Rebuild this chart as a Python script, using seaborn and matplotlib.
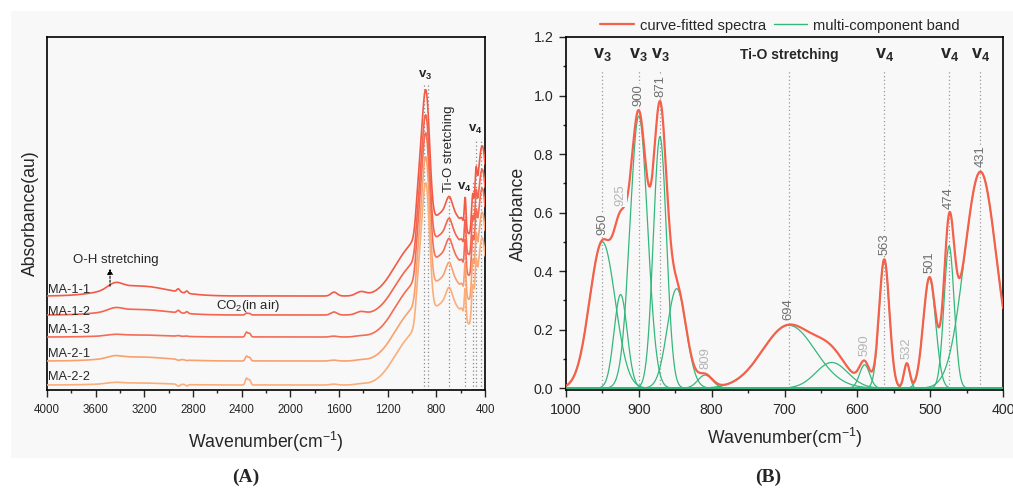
import numpy as np
import pandas as pd
import seaborn as sns
import matplotlib.pyplot as plt
from matplotlib.patches import Rectangle
from matplotlib.lines import Line2D
from matplotlib.ticker import MultipleLocator

# ---- panel A: FTIR spectra of the five samples (arbitrary units, stacked) ----
samples = ['MA-1-1', 'MA-1-2', 'MA-1-3', 'MA-2-1', 'MA-2-2']
sample_colors = ['#f25a46', '#f4644e', '#f46c54', '#f9a16e', '#fbae7b']
baseline = [0.94, 0.75, 0.53, 0.29, 0.05]
lattice_scale = [1.0, 0.97, 0.99, 0.99, 0.98]
oh_scale = [1.0, 0.55, 0.2, 0.4, 0.2]
ch_scale = [1.5, 1.2, 0.3, -0.5, -1.0]
co2_scale = [0.0, 0.5, 1.2, 1.2, 1.7]
water_scale = [1.3, 1.0, 0.3, 0.3, 0.3]

# bands: centre (cm-1), height, width
lattice_center = [1050, 700, 950, 905, 871, 694, 590, 563, 501, 474, 420]
lattice_height = [0.28, 0.85, 0.30, 0.95, 0.75, 0.14, 0.05, 0.31, 0.35, 0.35, 1.18]
lattice_width = [130, 200, 20, 28, 25, 25, 10, 7, 10, 8, 40]
oh_center, oh_height, oh_width = [3440, 3250], [0.06, 0.10], [60, 250]
ch_center, ch_height, ch_width = [2920, 2850], [0.02, 0.015], [12, 10]
co2_center, co2_height, co2_width = [2360, 2335], [0.04, 0.03], [10, 10]
water_center, water_height, water_width = [1640, 1420], [0.03, 0.03], [25, 40]

a_marks = [900, 871, 694, 563, 501, 474, 431]
a_mark_top = [3.06, 3.06, 1.94, 1.94, 2.1, 2.5, 2.5]

# ---- panel B: curve fitting of 1000-400 cm-1 ----
band_center = [950, 925, 900, 871, 848, 809, 694, 635, 590, 563, 532, 501, 474, 431]
band_height = [0.50, 0.32, 0.93, 0.86, 0.34, 0.045, 0.215, 0.088, 0.08, 0.44, 0.085, 0.375, 0.486, 0.74]
band_width = [17.5, 9, 12, 9, 13, 10, 36, 22, 7, 7, 4, 8.5, 7, 22]

peak_labels = [950, 925, 900, 871, 809, 694, 590, 563, 532, 501, 474, 431]
peak_strong = [True, False, True, True, False, True, False, True, False, True, True, True]
b_marks = [950, 900, 871, 694, 563, 474, 431]
b_mark_text = ['v3', 'v3', 'v3', 'Ti-O stretching', 'v4', 'v4', 'v4']

RED = '#f5604b'
GREEN = '#34b77c'
BG = '#f8f8f8'


def bands(x, centers, heights, widths):
    out = np.zeros_like(x)
    for c, h, w in zip(centers, heights, widths):
        out += h * np.exp(-(x - c) ** 2 / (2 * w ** 2))
    return out


def vlabel(t):
    # 'v3' -> bold v with subscript
    if t.startswith('v'):
        return r'$\mathbf{v_%s}$' % t[1]
    return t


sns.set_theme(style='ticks')
plt.rcParams['font.family'] = ['Liberation Sans', 'DejaVu Sans']
plt.rcParams['mathtext.fontset'] = 'custom'
plt.rcParams['mathtext.rm'] = 'Liberation Sans'
plt.rcParams['mathtext.bf'] = 'Liberation Sans:bold'
plt.rcParams['mathtext.it'] = 'Liberation Sans:italic'

fig = plt.figure(figsize=(10.13, 4.88), dpi=100)
fig.patches.append(Rectangle((11 / 1013, 30 / 488), 1002 / 1013, 447 / 488,
                             transform=fig.transFigure, facecolor=BG, edgecolor='none', zorder=-5))

ax_a = fig.add_axes([47 / 1013, 98 / 488, 438 / 1013, 353 / 488])
ax_b = fig.add_axes([566 / 1013, 98 / 488, 437 / 1013, 353 / 488])
for ax in (ax_a, ax_b):
    ax.set_facecolor(BG)
    for s in ax.spines.values():
        s.set_color('black')
        s.set_linewidth(1.2)

# ---------------- panel A ----------------
wn = np.linspace(400, 4000, 3601)
rows = []
for i, name in enumerate(samples):
    y = (baseline[i]
         + lattice_scale[i] * bands(wn, lattice_center, lattice_height, lattice_width)
         + oh_scale[i] * bands(wn, oh_center, oh_height, oh_width)
         + ch_scale[i] * bands(wn, ch_center, ch_height, ch_width)
         + co2_scale[i] * bands(wn, co2_center, co2_height, co2_width)
         + water_scale[i] * bands(wn, water_center, water_height, water_width))
    rows.append(pd.DataFrame({'wavenumber': wn, 'absorbance': y, 'sample': name}))
df_a = pd.concat(rows, ignore_index=True)

sns.lineplot(data=df_a, x='wavenumber', y='absorbance', hue='sample',
             palette=dict(zip(samples, sample_colors)), linewidth=1.2,
             legend=False, ax=ax_a, zorder=3)
ax_a.vlines(a_marks, 0, a_mark_top, colors='#8a8a8a', linestyles=(0, (1, 2)), linewidth=0.9, zorder=2)

ax_a.set_xlim(4000, 400)
ax_a.set_ylim(0, 3.53)
ax_a.set_yticks([])
ax_a.xaxis.set_major_locator(MultipleLocator(400))
ax_a.xaxis.set_minor_locator(MultipleLocator(200))
ax_a.tick_params(axis='x', which='major', direction='out', length=5, width=1, labelsize=8.3, pad=5)
ax_a.tick_params(axis='x', which='minor', direction='out', length=2.5, width=1)
ax_a.set_xlabel(r'Wavenumber(cm$^{-1}$)', fontsize=12.7, labelpad=10)
ax_a.set_ylabel('Absorbance(au)', fontsize=12.7, labelpad=6)

label_y = [1.0, 0.78, 0.60, 0.36, 0.127]
for name, yy in zip(samples, label_y):
    ax_a.text(3988, yy, name, fontsize=9.2, ha='left', va='center', zorder=4)
ax_a.text(3433, 1.30, 'O-H stretching', fontsize=9.5, ha='center', va='center')
ax_a.annotate('', xy=(3482, 1.24), xytext=(3482, 1.01),
              arrowprops=dict(arrowstyle='-|>', color='black', lw=0.8,
                              linestyle=(0, (2, 1.5)), mutation_scale=8))
ax_a.text(2344, 0.84, r'CO$_2$(in air)', fontsize=9.5, ha='center', va='center')
ax_a.text(890, 3.15, vlabel('v3'), fontsize=9.5, ha='center', va='center')
ax_a.text(696, 2.41, 'Ti-O stretching', fontsize=9.5, rotation=90, ha='center', va='center')
ax_a.text(570, 2.03, vlabel('v4'), fontsize=9.5, ha='center', va='center')
ax_a.text(478, 2.61, vlabel('v4'), fontsize=9.5, ha='center', va='center')

# ---------------- panel B ----------------
wb = np.linspace(400, 1000, 1201)
comp_rows = []
for c, h, w in zip(band_center, band_height, band_width):
    comp_rows.append(pd.DataFrame({'wavenumber': wb,
                                   'absorbance': h * np.exp(-(wb - c) ** 2 / (2 * w ** 2)),
                                   'band': str(c)}))
df_comp = pd.concat(comp_rows, ignore_index=True)
df_fit = pd.DataFrame({'wavenumber': wb,
                       'absorbance': bands(wb, band_center, band_height, band_width)})

ax_b.axhline(0, color=GREEN, lw=0.9, zorder=2)
sns.lineplot(data=df_comp, x='wavenumber', y='absorbance', units='band', estimator=None,
             color=GREEN, linewidth=0.9, ax=ax_b, zorder=3)
sns.lineplot(data=df_fit, x='wavenumber', y='absorbance', color=RED, linewidth=1.6,
             ax=ax_b, zorder=4)

ax_b.vlines(b_marks, 0, 1.086, colors='#9a9a9a', linestyles=(0, (1, 2)), linewidth=0.9, zorder=1)
for x, t in zip(b_marks, b_mark_text):
    if t.startswith('v'):
        ax_b.text(x, 1.14, vlabel(t), fontsize=13, ha='center', va='center')
    else:
        ax_b.text(x, 1.14, t, fontsize=10, fontweight='bold', ha='center', va='center')

for p, strong in zip(peak_labels, peak_strong):
    y0 = bands(np.array([float(p)]), band_center, band_height, band_width)[0]
    ax_b.text(p, y0 + 0.015, str(p), rotation=90, fontsize=9.4, ha='center', va='bottom',
              color='#6f6f6f' if strong else '#b5b5b5', zorder=5,
              bbox=dict(facecolor=BG, edgecolor='none', pad=0.3))

ax_b.set_xlim(1000, 400)
ax_b.set_ylim(-0.006, 1.2)
ax_b.xaxis.set_major_locator(MultipleLocator(100))
ax_b.xaxis.set_minor_locator(MultipleLocator(50))
ax_b.yaxis.set_major_locator(MultipleLocator(0.2))
ax_b.yaxis.set_minor_locator(MultipleLocator(0.1))
ax_b.yaxis.set_major_formatter(plt.FormatStrFormatter('%.1f'))
ax_b.tick_params(which='major', direction='out', length=5, width=1, labelsize=10.3, pad=4)
ax_b.tick_params(which='minor', direction='out', length=2.5, width=1)
ax_b.set_xlabel(r'Wavenumber(cm$^{-1}$)', fontsize=12.7, labelpad=7)
ax_b.set_ylabel('Absorbance', fontsize=12.7, labelpad=5)

handles = [Line2D([], [], color=RED, lw=1.6), Line2D([], [], color=GREEN, lw=1.0)]
ax_b.legend(handles, ['curve-fitted spectra', 'multi-component band'], loc='lower center',
            bbox_to_anchor=(0.49, 1.0), ncol=2, frameon=False, fontsize=10.6,
            handlelength=2.3, handletextpad=0.4, columnspacing=0.5, borderaxespad=0.1,
            borderpad=0.2)

fig.text(246 / 1013, 1 - 477 / 488, '(A)', fontsize=14, fontweight='bold',
         family='Liberation Serif', ha='center', va='center')
fig.text(768 / 1013, 1 - 477 / 488, '(B)', fontsize=14, fontweight='bold',
         family='Liberation Serif', ha='center', va='center')

fig.savefig('out.png', dpi=100, facecolor='white')
